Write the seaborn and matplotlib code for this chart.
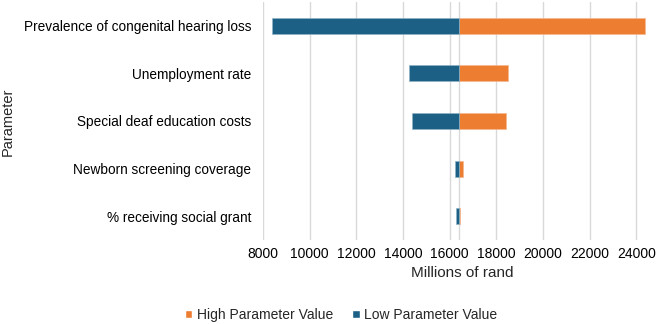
import matplotlib
matplotlib.use("Agg")
import matplotlib.pyplot as plt
import seaborn as sns
import numpy as np
import pandas as pd
from matplotlib.patches import Patch

params = ["Prevalence of congenital hearing loss", "Unemployment rate",
          "Special deaf education costs", "Newborn screening coverage",
          "% receiving social grant"]
base_value = 16380
high_values = [24370, 18510, 18410, 16560, 16440]
low_values = [8390, 14260, 14370, 16220, 16290]
x_ticks = [8000, 10000, 12000, 14000, 16000, 18000, 20000, 22000, 24000]

sns.set_theme(style="white")
plt.rcParams['font.family'] = ['Liberation Sans', 'DejaVu Sans']

orange = "#ED7D31"
blue = "#1C6185"

fig = plt.figure(figsize=(6.59, 3.24), dpi=100)
ax = fig.add_axes([263/659, 1-240/324, (648-263)/659, 238/324])

df = pd.DataFrame({"param": params,
                   "high": np.array(high_values) - base_value,
                   "low": np.array(low_values) - base_value})

sns.barplot(data=df, x="high", y="param", orient="h", color=orange, width=0.34,
            left=base_value, ax=ax, saturation=1, edgecolor="#F6B890", linewidth=0.5)
sns.barplot(data=df, x="low", y="param", orient="h", color=blue, width=0.34,
            left=base_value, ax=ax, saturation=1, edgecolor="#8FB3C6", linewidth=0.5)

ax.set_xlim(8000, 24500)
ax.set_xticks(x_ticks)
ax.set_xticklabels([str(t) for t in x_ticks], fontsize=10, color="#000000")
ax.tick_params(axis="y", labelsize=9.8, colors="#000000", length=0, pad=8.5)
ax.tick_params(axis="x", length=0, pad=5)
ax.grid(axis="x", color="#D9D9D9", linewidth=1)
ax.set_axisbelow(True)
ax.axvline(base_value, color="#D9D9D9", linewidth=1, zorder=0.5)
for s in ax.spines.values():
    s.set_visible(False)

ax.set_xlabel("Millions of rand", fontsize=11)
ax.xaxis.set_label_coords((462 - 263) / 385, -0.139)
ax.xaxis.label.set_va("center")
ax.set_ylabel("")
fig.text(8/659, 1-122/324, "Parameter", rotation=90, ha="center", va="center",
         fontsize=10.5)

handles = [Patch(facecolor=orange, label="High Parameter Value"),
           Patch(facecolor=blue, label="Low Parameter Value")]
fig.legend(handles=handles, loc="center", bbox_to_anchor=(341/659, 1-315/324),
           ncol=2, frameon=False, fontsize=10, handlelength=0.55, handleheight=0.55,
           handletextpad=0.3, columnspacing=1.4, borderpad=0, borderaxespad=0)

fig.savefig("out.png", dpi=100)
